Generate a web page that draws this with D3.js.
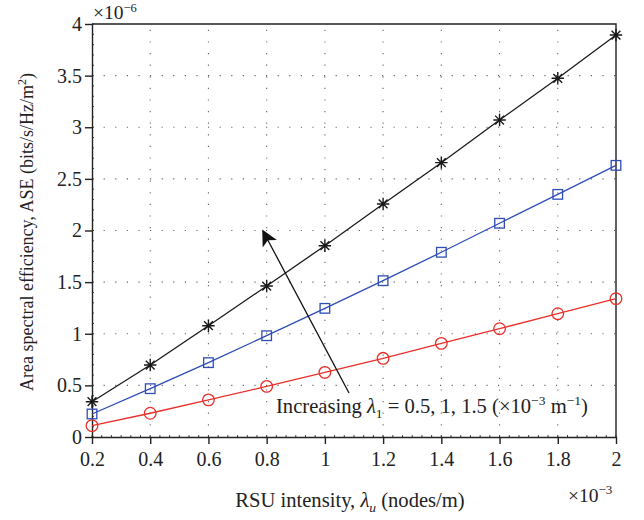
<!DOCTYPE html>
<html>
<head>
<meta charset="utf-8">
<script src="https://cdn.jsdelivr.net/npm/d3@7/dist/d3.min.js"></script>
<style>
  html, body { margin: 0; padding: 0; background: #fff; }
  svg text { font-family: "Liberation Serif", "DejaVu Serif", serif; fill: #222; }
</style>
</head>
<body>
<svg id="chart" width="644" height="520"></svg>
<script>
// RSU intensity (×10^-3 nodes/m)
const rsuIntensity = [0.2, 0.4, 0.6, 0.8, 1.0, 1.2, 1.4, 1.6, 1.8, 2.0];
// ASE (×10^-6 bits/s/Hz/m^2) for lambda_1 = 0.5, 1, 1.5 (×10^-3 m^-1)
const aseLambda05 = [0.11, 0.23, 0.36, 0.49, 0.626, 0.762, 0.907, 1.049, 1.194, 1.34];
const aseLambda10 = [0.223, 0.468, 0.72, 0.981, 1.246, 1.514, 1.789, 2.07, 2.35, 2.631];
const aseLambda15 = [0.342, 0.697, 1.078, 1.462, 1.853, 2.257, 2.657, 3.07, 3.474, 3.893];
const xTicks = [0.2, 0.4, 0.6, 0.8, 1, 1.2, 1.4, 1.6, 1.8, 2];
const yTicks = [0, 0.5, 1, 1.5, 2, 2.5, 3, 3.5, 4];

const svg = d3.select("#chart");
const margin = { left: 92, right: 28, top: 24, bottom: 83 };
const W = 644, H = 520;
const x = d3.scaleLinear().domain([0.2, 2]).range([margin.left, W - margin.right]);
const y = d3.scaleLinear().domain([0, 4]).range([H - margin.bottom, margin.top]);
const x0 = x.range()[0], x1 = x.range()[1], y0 = y.range()[0], y1 = y.range()[1];

// dotted grid
const grid = svg.append("g").attr("stroke", "#666").attr("stroke-width", 1.1)
  .attr("stroke-dasharray", "1.2,10.4");
grid.selectAll("line.v").data(xTicks.slice(1, -1)).join("line")
  .attr("x1", d => x(d)).attr("x2", d => x(d)).attr("y1", y0).attr("y2", y1);
grid.selectAll("line.h").data(yTicks.slice(1, -1)).join("line")
  .attr("x1", x0).attr("x2", x1).attr("y1", d => y(d)).attr("y2", d => y(d));

// minor ticks along the bottom and left spines
const minorX = d3.range(0.2, 2.0001, 0.2 / 6);
const minorY = d3.range(0, 4.0001, 0.1);
const minor = svg.append("g").attr("stroke", "#444").attr("stroke-width", 1);
minor.selectAll("line.mx").data(minorX).join("line")
  .attr("x1", d => x(d)).attr("x2", d => x(d)).attr("y1", y0).attr("y2", y0 - 2);
minor.selectAll("line.my").data(minorY).join("line")
  .attr("x1", x0).attr("x2", x0 + 2).attr("y1", d => y(d)).attr("y2", d => y(d));

// axes
const fmt = d => (d === 0 ? "0" : String(d));
const xAxis = svg.append("g").attr("transform", `translate(0,${y0})`)
  .call(d3.axisBottom(x).tickValues(xTicks).tickFormat(fmt).tickSize(7).tickPadding(8).tickSizeOuter(0));
const yAxis = svg.append("g").attr("transform", `translate(${x0},0)`)
  .call(d3.axisLeft(y).tickValues(yTicks).tickFormat(fmt).tickSize(7).tickPadding(3).tickSizeOuter(0));
[xAxis, yAxis].forEach(a => {
  a.selectAll("path.domain").attr("stroke", "#222").attr("stroke-width", 1.4);
  a.selectAll(".tick line").attr("stroke", "#222").attr("stroke-width", 1.4);
  a.selectAll(".tick text").attr("font-family", "Liberation Serif, serif")
    .attr("font-size", 20).attr("fill", "#222");
});

// top and right frame
svg.append("path")
  .attr("d", `M${x0},${y1}H${x1}V${y0}`)
  .attr("fill", "none").attr("stroke", "#222").attr("stroke-width", 1.4);

// series
const series = [
  { values: aseLambda05, color: "#e8302a", marker: "circle" },
  { values: aseLambda10, color: "#2e4db5", marker: "square" },
  { values: aseLambda15, color: "#1a1a1a", marker: "star" }
];
const line = d3.line().x(d => x(d[0])).y(d => y(d[1]));
series.forEach(s => {
  const pts = rsuIntensity.map((v, i) => [v, s.values[i]]);
  const g = svg.append("g");
  g.append("path").attr("d", line(pts)).attr("fill", "none")
    .attr("stroke", s.color).attr("stroke-width", 1.3);
  const m = g.selectAll("g.m").data(pts).join("g")
    .attr("transform", d => `translate(${x(d[0])},${y(d[1])})`);
  if (s.marker === "circle") {
    m.append("circle").attr("r", 5.8).attr("fill", "none")
      .attr("stroke", s.color).attr("stroke-width", 1.3);
  } else if (s.marker === "square") {
    m.append("rect").attr("x", -4.8).attr("y", -4.8).attr("width", 9.6).attr("height", 9.6)
      .attr("fill", "none").attr("stroke", s.color).attr("stroke-width", 1.3);
  } else {
    const r = 6.2, q = 4.4;
    m.append("path")
      .attr("d", `M${-r},0H${r}M0,${-r}V${r}M${-q},${-q}L${q},${q}M${-q},${q}L${q},${-q}`)
      .attr("stroke", s.color).attr("stroke-width", 1.4).attr("fill", "none");
  }
});

// arrow showing increasing lambda_1
svg.append("defs").append("marker")
  .attr("id", "head").attr("viewBox", "0 0 10 10").attr("refX", 9).attr("refY", 5)
  .attr("markerWidth", 16).attr("markerHeight", 16).attr("markerUnits", "userSpaceOnUse")
  .attr("orient", "auto")
  .append("path").attr("d", "M0,0L10,5L0,10L2.5,5Z").attr("fill", "#111");
svg.append("line")
  .attr("x1", 349).attr("y1", 393).attr("x2", 263).attr("y2", 231)
  .attr("stroke", "#111").attr("stroke-width", 1.3).attr("marker-end", "url(#head)");

// annotation
const ann = svg.append("text").attr("x", 276).attr("y", 413).attr("font-size", 20.6);
ann.append("tspan").text("Increasing ");
ann.append("tspan").attr("font-style", "italic").text("λ");
ann.append("tspan").attr("font-size", 13.5).attr("dy", 4.5).text("1");
ann.append("tspan").attr("dy", -4.5).text(" = 0.5, 1, 1.5 (×10");
ann.append("tspan").attr("font-size", 13.5).attr("dy", -8).text("−3");
ann.append("tspan").attr("dy", 8).text(" m");
ann.append("tspan").attr("font-size", 13.5).attr("dy", -8).text("−1");
ann.append("tspan").attr("dy", 8).text(")");

// axis titles
const xt = svg.append("text").attr("x", 350).attr("y", 507).attr("text-anchor", "middle").attr("font-size", 20.6);
xt.append("tspan").text("RSU intensity, ");
xt.append("tspan").attr("font-style", "italic").text("λ");
xt.append("tspan").attr("font-style", "italic").attr("font-size", 13.5).attr("dy", 4.5).text("u");
xt.append("tspan").attr("dy", -4.5).text(" (nodes/m)");

const yt = svg.append("text").attr("transform", `translate(33,232) rotate(-90)`)
  .attr("text-anchor", "middle").attr("font-size", 18);
yt.append("tspan").text("Area spectral efficiency, ASE (bits/s/Hz/m");
yt.append("tspan").attr("font-size", 12).attr("dy", -7).text("2");
yt.append("tspan").attr("dy", 7).text(")");

// exponent labels
const ex = svg.append("text").attr("x", 568).attr("y", 502).attr("font-size", 19.5);
ex.append("tspan").text("×10");
ex.append("tspan").attr("font-size", 13).attr("dy", -8).text("−3");
const ey = svg.append("text").attr("x", 93).attr("y", 19).attr("font-size", 19.5);
ey.append("tspan").text("×10");
ey.append("tspan").attr("font-size", 12.5).attr("dy", -7).text("−6");
</script>
</body>
</html>
